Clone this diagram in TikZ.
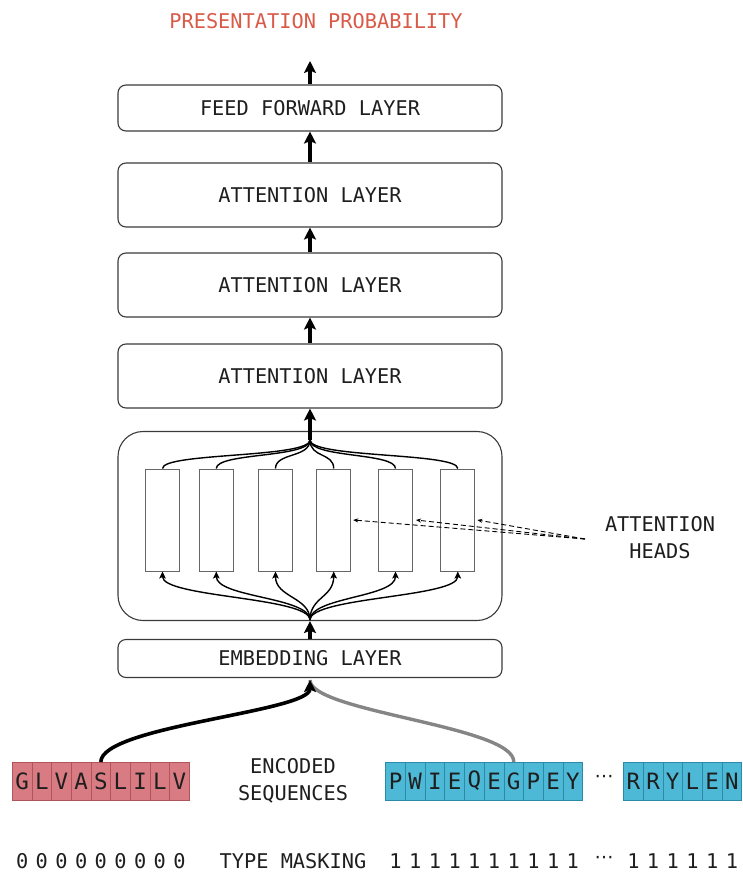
\documentclass[tikz,border=0pt]{standalone}
\usepackage{fontspec}
\usetikzlibrary{arrows.meta}
\newfontfamily\monof{DejaVu Sans Mono}
\newfontfamily\symf{DejaVu Sans}
\definecolor{txt}{HTML}{1E1E1E}
\definecolor{titlered}{HTML}{D95A48}
\definecolor{redfill}{HTML}{D97B82}
\definecolor{redline}{HTML}{B0545C}
\definecolor{bluefill}{HTML}{4DB9D6}
\definecolor{blueline}{HTML}{2A8AA8}
\definecolor{boxline}{HTML}{3A3A3A}
\tikzset{
  lbl/.style={font=\monof\fontsize{20.3}{27}\selectfont, text=txt},
  layerbox/.style={draw=boxline, line width=1.1pt, rounded corners=8pt, minimum width=384pt, lbl},
  headbox/.style={draw=black!60, line width=1pt, minimum width=34pt, minimum height=102pt, inner sep=0pt},
  bigarrow/.style={line width=3.6pt, -{Stealth[length=12pt,width=12pt,inset=2.5pt]}},
  thinarrow/.style={line width=1.4pt, -{Stealth[length=7pt,width=6.5pt,inset=1.5pt]}},
  thinline/.style={line width=1.4pt},
  dasharrow/.style={line width=0.9pt, dash pattern=on 5pt off 3pt, -{Stealth[length=5pt,width=4pt]}},
  cellbase/.style={minimum height=38pt, inner sep=0pt, outer sep=0pt, line width=0.8pt,
    font=\monof\fontsize{22.5}{24}\selectfont, text=txt},
  redcell/.style={cellbase, draw=redline, fill=redfill, minimum width=19.67pt},
  bluecell/.style={cellbase, draw=blueline, fill=bluefill, minimum width=19.7pt},
  dotsnode/.style={font=\symf\fontsize{19}{20}\selectfont, text=txt},
}
\begin{document}
\begin{tikzpicture}[x=1pt,y=-1pt]
\useasboundingbox (0,0) rectangle (743,874);

% title
\node[lbl, text=titlered] (title) at (316,21) {PRESENTATION PROBABILITY};
\coordinate (outtip) at (310,61);

% layers
\node[layerbox, minimum height=46pt] (ff) at (310,108) {FEED FORWARD LAYER};
\node[layerbox, minimum height=64pt] (att1) at (310,195) {ATTENTION LAYER};
\node[layerbox, minimum height=64pt] (att2) at (310,285) {ATTENTION LAYER};
\node[layerbox, minimum height=64pt] (att3) at (310,376) {ATTENTION LAYER};
\node[draw=boxline, line width=1.1pt, rounded corners=25pt, minimum width=384pt, minimum height=189pt] (big) at (310,526) {};
\node[layerbox, minimum height=38pt] (emb) at (310,658.5) {EMBEDDING LAYER};

\draw[bigarrow] (ff.north) -- (outtip);
\draw[bigarrow] (att1.north) -- (ff.south);
\draw[bigarrow] (att2.north) -- (att1.south);
\draw[bigarrow] (att3.north) -- (att2.south);
\draw[bigarrow] (emb.north) -- (big.south);

% heads
\foreach \hx [count=\i] in {162.5,216.3,275.5,333.7,395.5,457.8} {
  \node[headbox] (h\i) at (\hx,520) {};
}
\coordinate (merge) at (310,440);
\coordinate (split) at (310,620);
\foreach \i in {1,...,6} {
  \draw[thinline] (h\i.north) .. controls ([yshift=16pt]h\i.north) and (310,458) .. (merge);
  \draw[thinarrow] (split) .. controls (310,597) and ([yshift=-26pt]h\i.south) .. (h\i.south);
}
\draw[bigarrow] (merge) -- (att3.south);

% attention heads label
\node[lbl, align=center] (ahl) at (660,538) {ATTENTION\\HEADS};
\coordinate (ahsrc) at (585,539);
\draw[dasharrow] (ahsrc) -- ([xshift=2pt]h4.east);
\draw[dasharrow] (ahsrc) -- ([xshift=3pt]h5.east);
\draw[dasharrow] (ahsrc) -- ([xshift=2pt]h6.east);

% sequences
\foreach \c [count=\i] in {G,L,V,A,S,L,I,L,V} {
  \node[redcell] (r\i) at ({12.3+19.67*\i-9.835},781) {\c};
}
\foreach \c [count=\i] in {P,W,I,E,Q,E,G,P,E,Y} {
  \node[bluecell] (b\i) at ({385.7+19.7*\i-9.85},781) {\c};
}
\foreach \c [count=\i] in {R,R,Y,L,E,N} {
  \node[bluecell] (c\i) at ({623.5+19.7*\i-9.85},781) {\c};
}
\node[dotsnode] (dots1) at (604,779) {⋯};
\node[lbl, align=center] (enc) at (293,781) {ENCODED\\SEQUENCES};

\coordinate (embin) at ([yshift=-2pt]emb.south);
\draw[line width=3.4pt, draw=black!48] (b7.north) .. controls (515,726) and (310,712) .. (embin);
\draw[line width=3.6pt, -{Stealth[length=12pt,width=12pt,inset=2.5pt]}] (r5.north) .. controls (101,726) and (310,712) .. (embin);

% type masking
\foreach \i in {1,...,9} {
  \node[lbl] (z\i) at (r\i |- 0,861) {0};
}
\foreach \i in {1,...,10} {
  \node[lbl] (o\i) at (b\i |- 0,861) {1};
}
\foreach \i in {1,...,6} {
  \node[lbl] (p\i) at (c\i |- 0,861) {1};
}
\node[lbl] (tm) at (293,861) {TYPE MASKING};
\node[dotsnode] (dots2) at (604,860) {⋯};
\end{tikzpicture}
\end{document}
